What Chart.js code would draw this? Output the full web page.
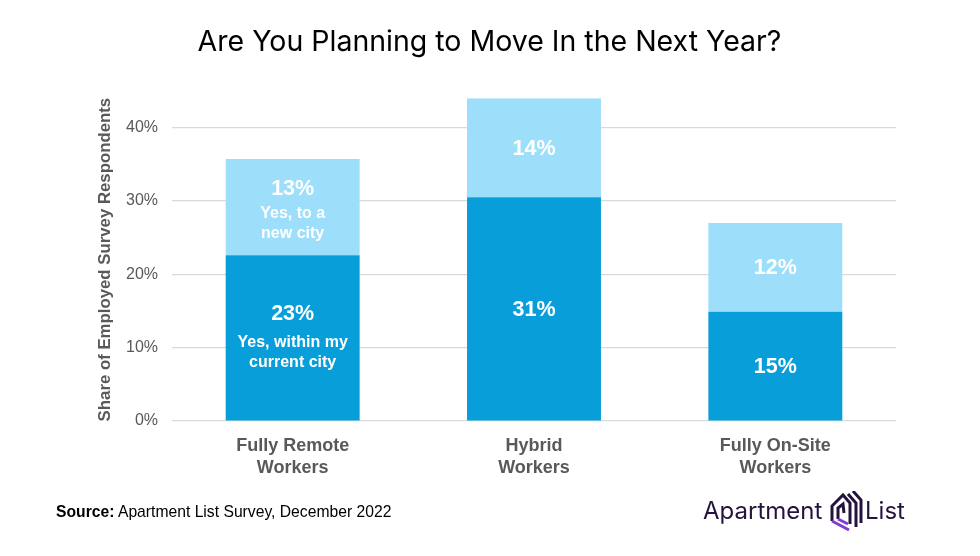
<!DOCTYPE html>
<html><head><meta charset="utf-8">
<style>
html,body{margin:0;padding:0;background:#fff;width:980px;height:556px;overflow:hidden}
#wrap{position:relative;width:980px;height:556px}
canvas{position:absolute;left:0;top:0}
#src{position:absolute;left:56px;top:503px;font:15.7px "Liberation Sans",sans-serif;color:#000;white-space:nowrap}
#logo{position:absolute;left:703px;top:496px;font:24px Inter,sans-serif;color:#24133d;white-space:nowrap}
#logo span{position:absolute;top:0}
#logo svg{position:absolute;left:125px;top:-5px}
</style></head><body>
<div id="wrap">
<canvas id="c" width="980" height="556"></canvas>
<div id="src"><b>Source:</b> Apartment List Survey, December 2022</div>
<div id="logo"><span style="left:0">Apartment</span>
<svg width="36" height="42" viewBox="0 0 36 42" fill="none" stroke-width="3">
<path d="M4 30 V15 L15 4 L22 12 V33" stroke="#24133d"/>
<path d="M20 3 L28 12 V36" stroke="#24133d"/>
<path d="M25 0 L33 9 V32" stroke="#24133d"/>
<path d="M10 28 V17 L15 13 L16 22" stroke="#24133d"/>
<path d="M4 30 L21 39 M10 28 L20 33" stroke="#7c3fd0"/>
</svg>
<span style="left:162px">List</span></div>
</div>
<script src="https://cdn.jsdelivr.net/npm/chart.js@4/dist/chart.umd.min.js"></script>
<script>
const categories = [["Fully Remote","Workers"],["Hybrid","Workers"],["Fully On-Site","Workers"]];
const withinCity = [22.6, 30.5, 14.9];
const newCity = [13.1, 13.5, 12.1];
const chartTitle = "Are You Planning to Move In the Next Year?";
const yTitle = "Share of Employed Survey Respondents";
const notesNewCity = [["Yes, to a","new city"],[],[]];
const notesWithin = [["Yes, within my","current city"],[],[]];

const SANS = '"Liberation Sans", Arial, sans-serif';
const barLabels = {
  id:'barLabels',
  afterDatasetsDraw(chart){
    const {ctx} = chart;
    const notes = [notesWithin, notesNewCity];
    chart.data.datasets.forEach((ds,di)=>{
      chart.getDatasetMeta(di).data.forEach((bar,i)=>{
        const mid = (bar.y + bar.base)/2;
        const cx = bar.x;
        const lines = notes[di][i];
        ctx.save();
        ctx.fillStyle='#fff';
        ctx.textAlign='center';
        ctx.textBaseline='middle';
        ctx.font='bold 21.5px '+SANS;
        if(lines.length){
          const top = di===0 ? mid-24 : mid-18;
          ctx.fillText(Math.round(ds.data[i])+'%',cx,top);
          ctx.font='bold 16px '+SANS;
          const off = di===0 ? 29 : 24;
          lines.forEach((l,k)=>ctx.fillText(l,cx,top+off+k*20));
        } else {
          ctx.fillText(Math.round(ds.data[i])+'%',cx,mid+1);
        }
        ctx.restore();
      });
    });
  }
};
new Chart(document.getElementById('c'),{
  type:'bar',
  data:{labels:categories,datasets:[
    {label:'Yes, within my current city',data:withinCity,backgroundColor:'#089ed9',barPercentage:1,categoryPercentage:0.555},
    {label:'Yes, to a new city',data:newCity,backgroundColor:'#9ddffa',barPercentage:1,categoryPercentage:0.555}
  ]},
  options:{
    responsive:false,animation:false,
    devicePixelRatio:1,
    layout:{padding:{left:83,right:84,top:15,bottom:0}},
    plugins:{
      legend:{display:false},tooltip:{enabled:false},
      title:{display:true,text:chartTitle,color:'#000',font:{family:'Inter',size:28.5,weight:'normal'},padding:{top:10,bottom:39}}
    },
    scales:{
      x:{stacked:true,
        grid:{display:false},border:{display:false},
        ticks:{color:'#595959',font:{family:SANS,size:18,weight:'bold',lineHeight:1.24},padding:6,maxRotation:0,autoSkip:false},
        afterFit(s){s.height=135;}
      },
      y:{stacked:true,min:0,max:44,
        grid:{color:'#d9d9d9',lineWidth:1.2,drawTicks:false},border:{display:false},
        ticks:{stepSize:10,includeBounds:false,color:'#595959',padding:14,font:{family:SANS,size:16},callback:v=>v+'%'},
        title:{display:true,text:yTitle,color:'#595959',font:{family:SANS,size:16.8,weight:'bold'},padding:{top:12,bottom:0}},
        afterFit(s){s.width=89;}
      }
    }
  },
  plugins:[barLabels]
});
</script></body></html>
